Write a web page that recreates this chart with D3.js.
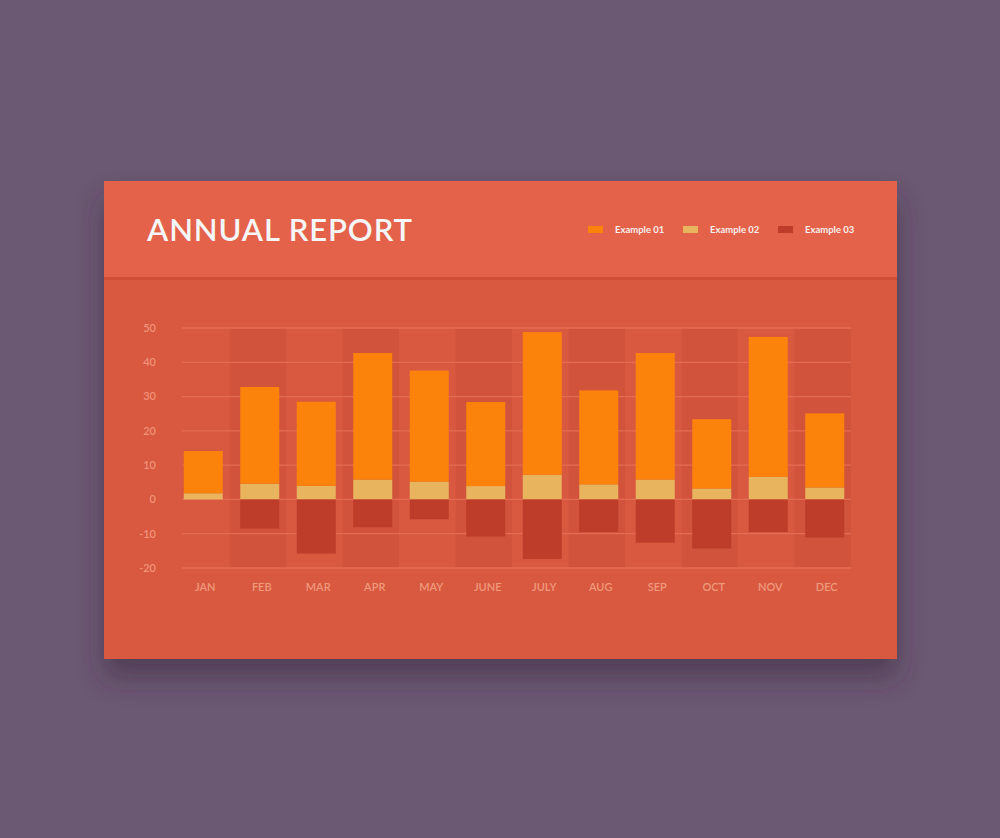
<!DOCTYPE html>
<html>
<head>
<meta charset="utf-8">
<script src="https://cdn.jsdelivr.net/npm/d3@7"></script>
<style>
  html, body { margin: 0; padding: 0; background: #6b5872; }
  svg { display: block; }
</style>
</head>
<body>
<div id="chart"></div>
<script>
const W = 1000, H = 838;

// data (stacked: ex02 at the bottom, ex01 on top, ex03 below zero)
const months = ["JAN","FEB","MAR","APR","MAY","JUNE","JULY","AUG","SEP","OCT","NOV","DEC"];
const example01 = [12.3, 28.2, 24.5, 36.9, 32.4, 24.5, 41.6, 27.4, 36.9, 20.2, 40.8, 21.6];
const example02 = [1.8, 4.6, 4.0, 5.8, 5.2, 3.9, 7.2, 4.4, 5.8, 3.2, 6.6, 3.5];
const example03 = [0, -8.5, -15.8, -8.1, -5.8, -10.8, -17.4, -9.5, -12.6, -14.3, -9.5, -11.1];
const yTicks = [50, 40, 30, 20, 10, 0, -10, -20];
const seriesNames = ["Example 01", "Example 02", "Example 03"];

const colors = {"ex01": "#fb830b", "ex02": "#e9b45e", "ex03": "#bd3d2a"};

const card = {x: 104, y: 181, w: 793, h: 478, head: 96};

const svg = d3.select("#chart").append("svg")
  .attr("width", W)
  .attr("height", H);

const defs = svg.append("defs");
const f = defs.append("filter").attr("id", "shadow")
  .attr("x", "-20%").attr("y", "-20%").attr("width", "140%").attr("height", "150%");
f.append("feDropShadow")
  .attr("dx", 0).attr("dy", 18).attr("stdDeviation", 14)
  .attr("flood-color", "#3a2a3e").attr("flood-opacity", 0.55);

// card
svg.append("rect")
  .attr("x", card.x).attr("y", card.y)
  .attr("width", card.w).attr("height", card.h)
  .attr("fill", "#d95840")
  .attr("filter", "url(#shadow)");

svg.append("rect")
  .attr("x", card.x).attr("y", card.y)
  .attr("width", card.w).attr("height", card.head)
  .attr("fill", "#e5624a");

svg.append("rect")
  .attr("x", card.x).attr("y", card.y + card.head)
  .attr("width", card.w).attr("height", 3)
  .attr("fill", "#cf4f39");

svg.append("text")
  .attr("x", 147).attr("y", 241)
  .attr("font-family", "Lato, 'Open Sans', sans-serif")
  .attr("font-weight", 600)
  .attr("font-size", 31)
  .attr("letter-spacing", 0.9)
  .attr("fill", "#f4f6f8")
  .text("ANNUAL REPORT");

// legend
const legendX = d3.scalePoint().domain(seriesNames).range([588, 778]);
const legendColor = d3.scaleOrdinal().domain(seriesNames).range([colors.ex01, colors.ex02, colors.ex03]);

const lg = svg.append("g").selectAll("g")
  .data(seriesNames).join("g")
  .attr("transform", d => "translate(" + legendX(d) + ",226)");
lg.append("rect")
  .attr("width", 15).attr("height", 7)
  .attr("fill", d => legendColor(d));
lg.append("text")
  .attr("x", 27).attr("y", 7)
  .attr("font-family", "Lato, sans-serif")
  .attr("font-weight", 700)
  .attr("font-size", 9.5)
  .attr("fill", "#f6f0ee")
  .text(d => d);

// scales
const x = d3.scaleBand().domain(months).range([175, 853]);
const y = d3.scaleLinear().domain([-20, 50]).range([568, 328]);
const barW = 39;

const plot = svg.append("g");

// alternating column shading
plot.selectAll(".band")
  .data(months.filter((d, i) => i % 2 === 1))
  .join("rect")
  .attr("class", "band")
  .attr("x", d => x(d) - 2)
  .attr("y", y(50))
  .attr("width", x.bandwidth())
  .attr("height", y(-20) - y(50))
  .attr("fill", "#d1533b");

// grid lines
plot.selectAll(".grid")
  .data(yTicks)
  .join("line")
  .attr("class", "grid")
  .attr("x1", 182).attr("x2", 851)
  .attr("y1", d => y(d)).attr("y2", d => y(d))
  .attr("stroke", "#e46c55")
  .attr("stroke-width", 1.3);

// y labels
plot.selectAll(".ylab")
  .data(yTicks)
  .join("text")
  .attr("class", "ylab")
  .attr("x", 156)
  .attr("y", d => y(d))
  .attr("dy", "0.35em")
  .attr("text-anchor", "end")
  .attr("font-family", "Lato, sans-serif")
  .attr("font-weight", 600)
  .attr("font-size", 11)
  .attr("fill", "#f09379")
  .text(d => d);

// x labels
plot.selectAll(".xlab")
  .data(months)
  .join("text")
  .attr("class", "xlab")
  .attr("x", d => x(d) + x.bandwidth() / 2 + 2)
  .attr("y", 587)
  .attr("dy", "0.35em")
  .attr("text-anchor", "middle")
  .attr("font-family", "Lato, sans-serif")
  .attr("font-weight", 600)
  .attr("font-size", 11)
  .attr("fill", "#f09a7c")
  .text(d => d);

// stacked bars
const table = months.map((m, i) => ({month: m, ex01: example01[i], ex02: example02[i], ex03: example03[i]}));
const stack = d3.stack()
  .keys(["ex02", "ex01", "ex03"])
  .offset(d3.stackOffsetDiverging);

plot.selectAll(".series")
  .data(stack(table))
  .join("g")
  .attr("class", "series")
  .attr("fill", s => colors[s.key])
  .selectAll("rect")
  .data(s => s)
  .join("rect")
  .attr("x", d => x(d.data.month) + x.bandwidth() / 2 - barW / 2)
  .attr("y", d => y(d[1]))
  .attr("width", barW)
  .attr("height", d => y(d[0]) - y(d[1]));
</script>
</body>
</html>
